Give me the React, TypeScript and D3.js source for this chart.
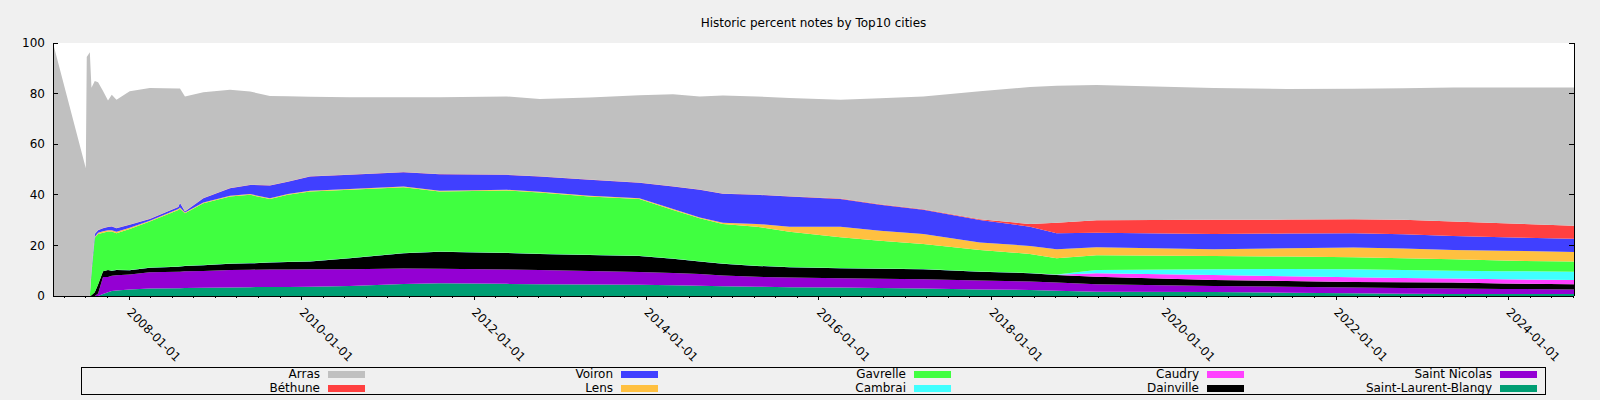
import React from 'react';
import * as d3 from 'd3';

// sample dates (stacked series)
const dates = [
  '2007-02-12', '2007-07-01', '2007-07-05', '2007-07-18', '2007-07-25', '2007-08-08',
  '2007-08-22', '2007-09-12', '2007-10-03', '2007-10-19', '2007-11-08', '2008-01-03',
  '2008-03-28', '2008-07-27', '2008-08-03', '2008-08-24', '2008-11-10', '2009-03-03',
  '2009-05-27', '2009-08-19', '2009-11-03', '2010-02-05', '2010-07-23', '2011-03-08',
  '2011-08-08', '2012-05-18', '2012-10-05', '2013-05-04', '2013-12-01', '2014-04-23',
  '2014-08-14', '2014-11-20', '2015-04-12', '2015-08-29', '2016-04-01', '2016-09-16',
  '2017-03-18', '2017-11-13', '2018-06-13', '2018-10-04', '2019-03-22', '2020-07-31',
  '2021-06-07', '2022-03-15', '2022-10-12', '2023-05-11', '2023-12-09', '2024-10-04',
];

const saintLaurentBlangy = [
  0, 0, 0, 0, 0, 0, 0, 0.8, 1.5, 2.0, 2.2, 2.6, 3.0, 3.1, 3.1, 3.2, 3.3, 3.4, 3.5, 3.6, 3.6, 3.7, 4.0, 4.7,
  5.0, 4.8, 4.6, 4.5, 4.4, 4.2, 4.1, 3.9, 3.7, 3.5, 3.4, 3.2, 3.0, 2.6, 2.4, 2.1, 1.7, 1.6, 1.3, 1.1, 0.9, 0.8, 0.8, 0.8,
];
const saintNicolas = [
  0, 0, 0, 0, 0, 0, 1, 6.7, 6.0, 6.0, 6.0, 5.9, 6.4, 6.5, 6.5, 6.6, 6.6, 6.9, 6.9, 6.9, 6.9, 6.9, 6.6, 6.2,
  5.8, 5.7, 5.7, 5.4, 5.1, 4.9, 4.6, 4.2, 3.9, 3.8, 3.6, 3.6, 3.6, 3.5, 3.3, 3.2, 2.9, 2.4, 2.4, 2.3, 2.3, 2.2, 2.0, 1.8,
];
const dainville = [
  0, 0, 0, 0, 0.3, 1.5, 3.5, 2.3, 2.8, 2.0, 2.1, 1.7, 1.8, 2.0, 2.1, 2.1, 2.3, 2.4, 2.5, 2.7, 2.9, 3.0, 4.3, 6.0,
  6.7, 6.5, 6.3, 6.3, 6.3, 5.6, 4.9, 4.6, 4.3, 4.1, 4.0, 4.0, 4.0, 3.5, 3.3, 3.0, 3.0, 2.3, 2.2, 2.1, 2.2, 2.3, 2.1, 2.0,
];
const caudry = [
  0, 0, 0, 0, 0, 0, 0, 0, 0, 0, 0, 0, 0, 0, 0, 0, 0, 0, 0, 0, 0, 0, 0, 0,
  0, 0, 0, 0, 0, 0, 0, 0, 0, 0, 0, 0, 0, 0, 0, 0.1, 1.4, 2.0, 1.9, 1.9, 1.7, 1.6, 1.7, 1.7,
];
const cambrai = [
  0, 0, 0, 0, 0, 0, 0, 0, 0, 0.1, 0.1, 0.1, 0.1, 0.1, 0.1, 0.1, 0.1, 0.1, 0.1, 0.1, 0.1, 0.1, 0.1, 0.1,
  0.1, 0.1, 0.1, 0.1, 0.1, 0.1, 0.1, 0.1, 0.1, 0.1, 0.1, 0.1, 0.1, 0.1, 0.1, 0.1, 1.3, 2.3, 2.9, 3.2, 3.2, 3.1, 3.2, 3.3,
];
const gavrelle = [
  0, 0, 0, 0, 8.7, 21.5, 20, 15.2, 15.2, 15.4, 14.4, 16.2, 18.1, 22.3, 22.7, 20.7, 24.4, 26.5, 27.0, 25.0, 26.5, 27.6, 27.0, 26.0,
  23.7, 24.6, 24.2, 23.0, 22.4, 19.2, 17.0, 15.7, 15.4, 13.9, 12.1, 10.9, 9.9, 8.5, 7.5, 6.4, 5.8, 5.2, 4.9, 4.7, 4.6, 4.5, 4.2, 4.0,
];
const lens = [
  0, 0, 0, 0, 0.3, 0.3, 0.5, 0.6, 0.5, 0.5, 0.6, 0.5, 0.3, 0.4, 0.5, 0.3, 0.3, 0.3, 0.3, 0.3, 0.3, 0.3, 0.3, 0.3,
  0.3, 0.3, 0.3, 0.3, 0.3, 0.4, 0.3, 0.5, 1.1, 2.0, 4.2, 4.0, 3.9, 2.9, 3.2, 3.6, 3.2, 2.7, 3.3, 3.9, 3.9, 3.7, 3.9, 3.8,
];
const voiron = [
  0, 0, 0, 0, 1.2, 1.2, 1.0, 1.2, 1.3, 1.5, 1.4, 1.2, 0.7, 0.8, 1.8, 0.4, 1.6, 3.0, 3.6, 5.1, 4.9, 5.6, 5.6, 5.6,
  6.5, 5.9, 6.0, 6.3, 6.2, 8.9, 11.0, 11.4, 11.5, 11.9, 10.9, 10.3, 9.6, 8.9, 7.6, 6.3, 5.7, 6.0, 5.8, 5.6, 5.6, 5.5, 5.3, 5.2,
];
const bethune = [
  0, 0, 0, 0, 0, 0.1, 0.1, 0.1, 0.1, 0.1, 0.1, 0.1, 0.1, 0.1, 0.1, 0.1, 0.1, 0.1, 0.1, 0.1, 0.1, 0.1, 0.1, 0.1,
  0.1, 0.1, 0.1, 0.1, 0.1, 0.1, 0.1, 0.1, 0.1, 0.1, 0.2, 0.2, 0.2, 0.3, 1.1, 4.2, 4.9, 5.6, 5.5, 5.5, 5.7, 5.7, 5.6, 5.2,
];
const arras = [
  100, 50.5, 94.5, 96.3, 71.8, 60.4, 58.4, 54.1, 49.9, 51.9, 50.7, 52.6, 51.7, 46.7, 45.1, 45.4, 41.8, 38.8, 36.8, 35.3, 33.7, 31.5, 30.6, 29.6,
  30.4, 30.9, 30.6, 32.5, 34.4, 36.3, 36.8, 38.7, 38.8, 38.9, 39.1, 41.9, 44.6, 50.6, 54.1, 54.1, 53.5, 52.1, 51.6, 51.6, 52.0, 53.0, 53.6, 54.6,
];

// legend order (top of stack first)
const cities = [
  { name: 'Arras', color: '#c0c0c0', values: arras },
  { name: 'Béthune', color: '#ff4040', values: bethune },
  { name: 'Voiron', color: '#4040ff', values: voiron },
  { name: 'Lens', color: '#ffc040', values: lens },
  { name: 'Gavrelle', color: '#40ff40', values: gavrelle },
  { name: 'Cambrai', color: '#40ffff', values: cambrai },
  { name: 'Caudry', color: '#ff40ff', values: caudry },
  { name: 'Dainville', color: '#000000', values: dainville },
  { name: 'Saint Nicolas', color: '#9400d3', values: saintNicolas },
  { name: 'Saint-Laurent-Blangy', color: '#009e73', values: saintLaurentBlangy },
];

const yTicks = [0, 20, 40, 60, 80, 100];

const W = 1600;
const H = 400;
const margin = { left: 53, right: 26, top: 43, bottom: 104 };
const FONT = 'DejaVu Sans, sans-serif';

export default function App() {
  const parseDate = d3.timeParse('%Y-%m-%d');
  const fmt = d3.timeFormat('%Y-%m-%d');
  const parsed = dates.map((d) => parseDate(d) as Date);

  const x = d3
    .scaleTime()
    .domain(d3.extent(parsed) as [Date, Date])
    .range([margin.left, W - margin.right]);
  const y = d3.scaleLinear().domain([0, 100]).range([H - margin.bottom, margin.top]);

  const stackOrder = [...cities].reverse();
  const rows = parsed.map((date, i) => {
    const row: any = { date };
    stackOrder.forEach((c) => { row[c.name] = c.values[i]; });
    return row;
  });
  const stacked = d3.stack<any>().keys(stackOrder.map((c) => c.name))(rows);

  const area = d3
    .area<any>()
    .x((d) => x(d.data.date))
    .y0((d) => y(d[0]))
    .y1((d) => y(d[1]));

  const [x0, x1] = x.range();
  const [yb, yt] = y.range();
  const majorTicks = x.ticks(d3.timeYear.every(2) as any);
  const minorTicks = x.ticks(d3.timeMonth.every(3) as any);

  // legend layout
  const legend = { left: 81, right: 1545, top: 367, bottom: 394, swatch0: 328, colStep: 293 };

  return (
    <svg width={W} height={H} style={{ position: 'absolute', left: 0, top: 0 }} fontFamily={FONT}>
      <rect x={0} y={0} width={W} height={H} fill="#f0f0f0" />
      <rect x={x0} y={yt} width={x1 - x0} height={yb - yt} fill="#ffffff" />

      {stacked.map((s, i) => (
        <path key={s.key} d={area(s) || ''} fill={stackOrder[i].color} />
      ))}

      <text x={(x0 + x1) / 2} y={27} textAnchor="middle" fontSize={12} fill="#000">
        Historic percent notes by Top10 cities
      </text>

      {/* axes */}
      <g stroke="#000" strokeWidth={1} shapeRendering="crispEdges">
        <line x1={x0} x2={x0} y1={yt} y2={yb} />
        <line x1={x1} x2={x1} y1={yt} y2={yb} />
        <line x1={x0} x2={x1} y1={yb} y2={yb} />
        {yTicks.map((t) => (
          <g key={t}>
            <line x1={x0} x2={x0 + 5} y1={y(t)} y2={y(t)} />
            <line x1={x1 - 5} x2={x1} y1={y(t)} y2={y(t)} />
          </g>
        ))}
        {minorTicks.map((t) => (
          <line key={+t} x1={x(t)} x2={x(t)} y1={yb} y2={yb + 2} />
        ))}
        {majorTicks.map((t) => (
          <line key={+t} x1={x(t)} x2={x(t)} y1={yb} y2={yb + 4} />
        ))}
      </g>

      {yTicks.map((t) => (
        <text key={t} x={45} y={y(t)} dy="0.35em" textAnchor="end" fontSize={12} fill="#000">
          {t}
        </text>
      ))}

      {majorTicks.map((t) => (
        <text
          key={+t}
          transform={`translate(${x(t) - 3},${yb + 17}) rotate(45)`}
          fontSize={12}
          fill="#000"
        >
          {fmt(t)}
        </text>
      ))}

      <rect
        x={legend.left}
        y={legend.top}
        width={legend.right - legend.left}
        height={legend.bottom - legend.top}
        fill="none"
        stroke="#000"
        shapeRendering="crispEdges"
      />
      {cities.map((c, i) => {
        const col = Math.floor(i / 2);
        const row = i % 2;
        const sx = legend.swatch0 + col * legend.colStep;
        const cy = legend.top + 7 + row * 14;
        return (
          <g key={c.name}>
            <rect x={sx} y={cy - 3} width={37} height={7} fill={c.color} />
            <text x={sx - 8} y={cy} dy="0.35em" textAnchor="end" fontSize={12} fill="#000">
              {c.name}
            </text>
          </g>
        );
      })}
    </svg>
  );
}
